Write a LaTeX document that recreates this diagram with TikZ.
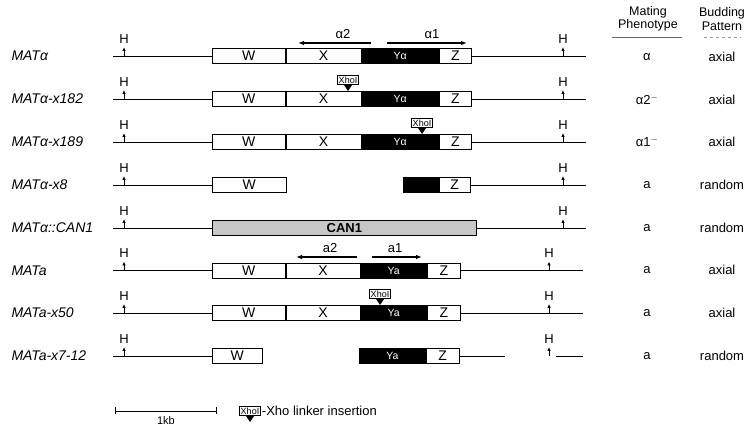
\documentclass[tikz,border=0pt]{standalone}
\usepackage{fontspec}
\setmainfont{Liberation Sans}
\usetikzlibrary{arrows.meta}
\tikzset{
  seg/.style={draw, line width=0.7pt, minimum height=15pt, inner sep=0pt, anchor=west, font=\fontsize{14}{14}\selectfont},
  wseg/.style={seg, fill=white},
  bseg/.style={seg, fill=black, text=white, font=\fontsize{10.5}{10}\selectfont},
  gseg/.style={seg, fill=black!22, font=\bfseries\fontsize{13}{13}\selectfont},
  dna/.style={line width=0.7pt},
  lab/.style={anchor=west, font=\itshape\fontsize{14}{14}\selectfont},
  hl/.style={font=\fontsize{13}{13}\selectfont, inner sep=0pt},
  hup/.style={line width=0.8pt, -{Latex[length=4pt,width=3.5pt]}},
  garrow/.style={line width=1.1pt, -{Latex[length=6pt,width=4.5pt]}},
  glab/.style={font=\fontsize{13}{13}\selectfont, inner sep=0pt},
  xho/.style={draw, fill=white, line width=0.6pt, inner sep=1.2pt, font=\fontsize{9}{9}\selectfont},
  col/.style={font=\fontsize{13}{13}\selectfont, inner sep=0pt},
  hdr/.style={font=\fontsize{12.5}{13.5}\selectfont, align=center, inner sep=0pt},
}
\newcommand\xhomark[3]{%
  \node[xho, anchor=south] (#1) at (#2,#3) {XhoI};
  \fill ([xshift=-4pt]#1.south) -- ([xshift=4pt]#1.south) -- ([yshift=-6pt]#1.south) -- cycle;}
\newcommand\hsite[3]{%
  \coordinate (#1) at (#2,#3);
  \draw[hup] (#1) -- ++(0,-9);
  \node[hl] (#1l) at (#2,#3-17) {H};}
\begin{document}
\begin{tikzpicture}[x=1pt,y=-1pt]
\useasboundingbox[fill=white] (0,0) rectangle (755,427);
% ---------- headers
\node[hdr] (hm) at (648,19) {Mating\\Phenotype};
\node[hdr] (hb) at (722,19) {Budding\\Pattern};
\draw[line width=0.4pt, black!60] (612,37) -- (682,37);
\draw[line width=0.4pt, black!40, dashed] (704,37) -- (741,37);
% ---------- row 1: MATalpha
\node[lab] (l1) at (8,56) {MATα};
\coordinate (s1) at (113,56);
\node[wseg, minimum width=73pt] (w1) at (212,56) {W};
\node[wseg, minimum width=75pt] (x1) at (w1.east) {X};
\node[bseg, minimum width=77pt] (y1) at (x1.east) {Yα};
\node[wseg, minimum width=32pt] (z1) at (y1.east) {Z};
\coordinate (e1) at (586,56);
\draw[dna] (s1) -- (w1.west); \draw[dna] (z1.east) -- (e1);
\hsite{ha1}{124}{56} \hsite{hb1}{563}{56}
\draw[garrow] (371,43) -- (298,43);
\draw[garrow] (387,43) -- (467,43);
\node[glab] (a2l) at (343,34) {α2};
\node[glab] (a1l) at (432,34) {α1};
\node[col] (p1) at (647,57) {α};
\node[col] (b1) at (722,57) {axial};
% ---------- row 2: MATalpha-x182
\node[lab] (l2) at (8,99) {MATα-x182};
\coordinate (s2) at (113,99);
\node[wseg, minimum width=73pt] (w2) at (212,99) {W};
\node[wseg, minimum width=75pt] (x2) at (w2.east) {X};
\node[bseg, minimum width=77pt] (y2) at (x2.east) {Yα};
\node[wseg, minimum width=32pt] (z2) at (y2.east) {Z};
\coordinate (e2) at (586,99);
\draw[dna] (s2) -- (w2.west); \draw[dna] (z2.east) -- (e2);
\hsite{ha2}{124}{99} \hsite{hb2}{563}{99}
\xhomark{xh2}{348}{85}
\node[col] (p2) at (647,100) {α2$^{-}$};
\node[col] (b2) at (722,100) {axial};
% ---------- row 3: MATalpha-x189
\node[lab] (l3) at (8,142) {MATα-x189};
\coordinate (s3) at (113,142);
\node[wseg, minimum width=73pt] (w3) at (212,142) {W};
\node[wseg, minimum width=75pt] (x3) at (w3.east) {X};
\node[bseg, minimum width=77pt] (y3) at (x3.east) {Yα};
\node[wseg, minimum width=32pt] (z3) at (y3.east) {Z};
\coordinate (e3) at (586,142);
\draw[dna] (s3) -- (w3.west); \draw[dna] (z3.east) -- (e3);
\hsite{ha3}{124}{142} \hsite{hb3}{563}{142}
\xhomark{xh3}{422}{128}
\node[col] (p3) at (647,142) {α1$^{-}$};
\node[col] (b3) at (722,142) {axial};
% ---------- row 4: MATalpha-x8
\node[lab] (l4) at (8,185) {MATα-x8};
\coordinate (s4) at (113,185);
\node[wseg, minimum width=74pt] (w4) at (212,185) {W};
\node[bseg, minimum width=35pt] (y4) at (403,185) {};
\node[wseg, minimum width=31pt] (z4) at (y4.east) {Z};
\coordinate (e4) at (586,185);
\draw[dna] (s4) -- (w4.west); \draw[dna] (z4.east) -- (e4);
\hsite{ha4}{124}{185} \hsite{hb4}{563}{185}
\node[col] (p4) at (647,185) {a};
\node[col] (b4) at (722,185) {random};
% ---------- row 5: MATalpha::CAN1
\node[lab] (l5) at (8,228) {MATα::CAN1};
\coordinate (s5) at (113,228);
\node[gseg, minimum width=264pt] (c5) at (212,228) {CAN1};
\coordinate (e5) at (586,228);
\draw[dna] (s5) -- (c5.west); \draw[dna] (c5.east) -- (e5);
\hsite{ha5}{124}{228} \hsite{hb5}{563}{228}
\node[col] (p5) at (647,228) {a};
\node[col] (b5) at (722,228) {random};
% ---------- row 6: MATa
\node[lab] (l6) at (8,270.5) {MATa};
\coordinate (s6) at (113,270.5);
\node[wseg, minimum width=73pt] (w6) at (212,270.5) {W};
\node[wseg, minimum width=74pt] (x6) at (w6.east) {X};
\node[bseg, minimum width=66pt] (y6) at (x6.east) {Ya};
\node[wseg, minimum width=33pt] (z6) at (y6.east) {Z};
\coordinate (e6) at (583,270.5);
\draw[dna] (s6) -- (w6.west); \draw[dna] (z6.east) -- (e6);
\hsite{ha6}{124}{270.5} \hsite{hb6}{549}{270.5}
\draw[garrow] (357,257) -- (296,257);
\draw[garrow] (372,257) -- (422,257);
\node[glab] (a2m) at (330,248) {a2};
\node[glab] (a1m) at (395,248) {a1};
\node[col] (p6) at (647,270) {a};
\node[col] (b6) at (722,270) {axial};
% ---------- row 7: MATa-x50
\node[lab] (l7) at (8,313) {MATa-x50};
\coordinate (s7) at (113,313);
\node[wseg, minimum width=73pt] (w7) at (212,313) {W};
\node[wseg, minimum width=74pt] (x7) at (w7.east) {X};
\node[bseg, minimum width=66pt] (y7) at (x7.east) {Ya};
\node[wseg, minimum width=33pt] (z7) at (y7.east) {Z};
\coordinate (e7) at (583,313);
\draw[dna] (s7) -- (w7.west); \draw[dna] (z7.east) -- (e7);
\hsite{ha7}{124}{313} \hsite{hb7}{549}{313}
\xhomark{xh7}{380}{299}
\node[col] (p7) at (647,313) {a};
\node[col] (b7) at (722,313) {axial};
% ---------- row 8: MATa-x7-12
\node[lab] (l8) at (8,356) {MATa-x7-12};
\coordinate (s8) at (113,356);
\node[wseg, minimum width=50pt] (w8) at (212,356) {W};
\node[bseg, minimum width=66pt] (y8) at (359,356) {Ya};
\node[wseg, minimum width=33pt] (z8) at (y8.east) {Z};
\coordinate (g8) at (505,356);
\coordinate (g9) at (556,356);
\coordinate (e8) at (583,356);
\draw[dna] (s8) -- (w8.west); \draw[dna] (z8.east) -- (g8); \draw[dna] (g9) -- (e8);
\hsite{ha8}{124}{356} \hsite{hb8}{549}{356}
\node[col] (p8) at (647,356) {a};
\node[col] (b8) at (722,356) {random};
% ---------- scale bar and legend
\coordinate (sb1) at (115,411);
\coordinate (sb2) at (217,411);
\draw[line width=0.7pt, {Bar[width=7pt]}-{Bar[width=7pt]}] (sb1) -- (sb2);
\node[col, font=\fontsize{11}{11}\selectfont] (kb) at (166,421) {1kb};
\xhomark{xhl}{250}{416}
\node[col, anchor=west] (leg) at ([xshift=1pt]xhl.east) {-Xho linker insertion};
\end{tikzpicture}
\end{document}
